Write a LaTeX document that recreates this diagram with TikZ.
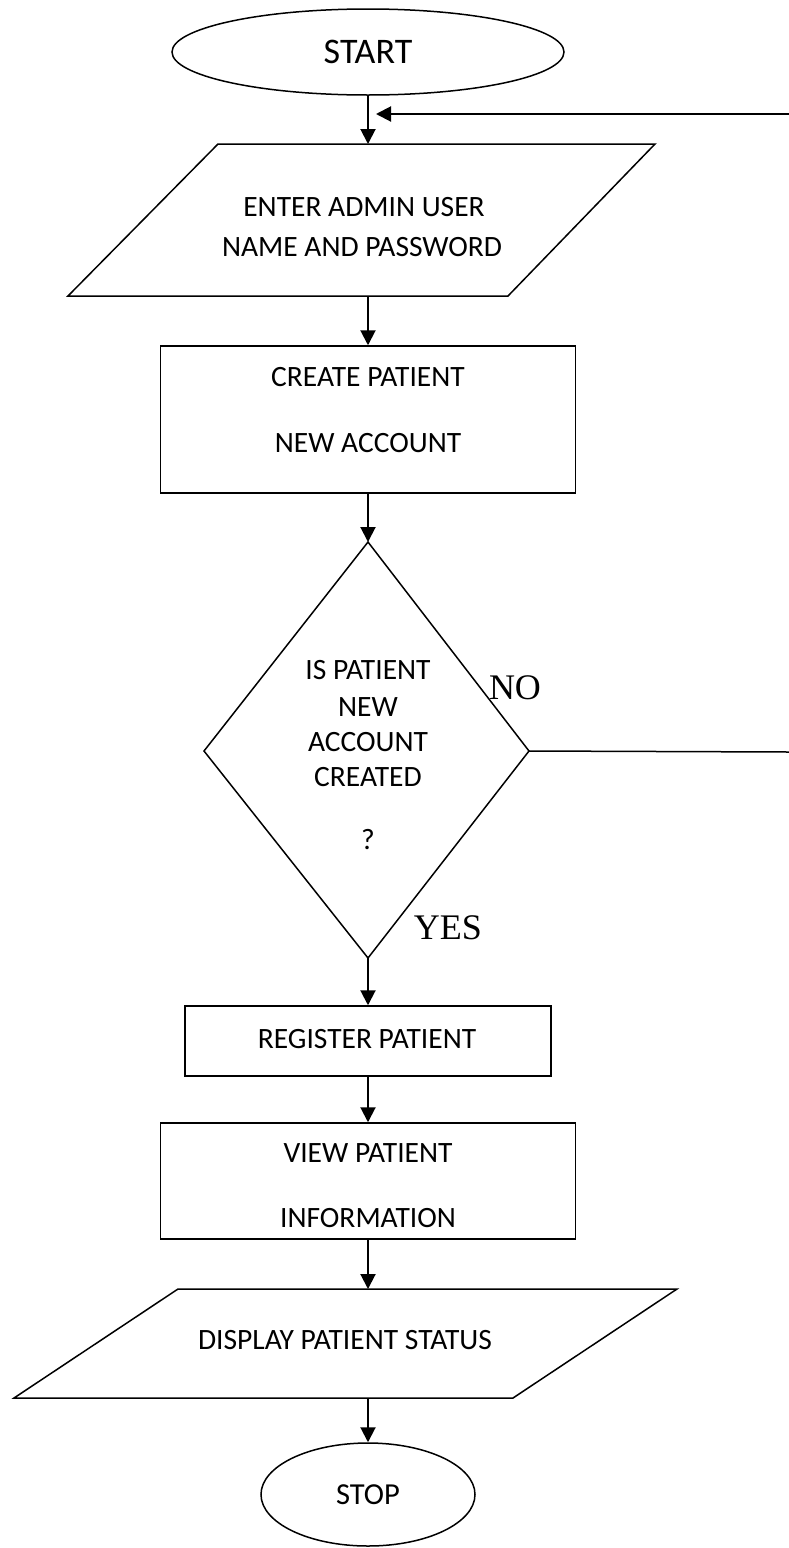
\documentclass[tikz,border=0pt]{standalone}
\usepackage{fontspec}
\setmainfont{Carlito}
\newfontfamily\tnr{Liberation Serif}
\usetikzlibrary{arrows.meta,shapes.geometric}
\tikzset{
  outline/.style={draw,line width=1.5pt},
  conn/.style={line width=2pt,-{Triangle[length=15pt,width=15pt]}},
  plainline/.style={line width=1.5pt},
  txt/.style={inner sep=0pt,font=\fontsize{29.5}{30}\selectfont},
  lbl/.style={inner sep=0pt,font=\fontsize{36}{36}\tnr},
  boxnode/.style={outline,rectangle,inner sep=0pt},
  ovalnode/.style={outline,ellipse,inner sep=0pt}
}
\begin{document}
\begin{tikzpicture}[x=1pt,y=-1pt]
\useasboundingbox (0,0) rectangle (789,1548);
% START
\node[ovalnode,minimum width=392pt,minimum height=86pt,font=\fontsize{36}{36}\selectfont] (start) at (368,52) {START};
% parallelogram 1
\coordinate (p1a) at (218,144);
\coordinate (p1b) at (655,144);
\coordinate (p1c) at (508,296);
\coordinate (p1d) at (68,296);
\draw[outline] (p1a) -- (p1b) -- (p1c) -- (p1d) -- cycle;
\coordinate (p1top) at (368,144);
\coordinate (p1bot) at (368,296);
\node[txt] (t1a) at (364,207) {ENTER ADMIN USER};
\node[txt] (t1b) at (362,247) {NAME AND PASSWORD};
% rect 1
\node[boxnode,minimum width=415pt,minimum height=147pt] (create) at (368,419.5) {};
\node[txt] (t2a) at (368,377) {CREATE PATIENT};
\node[txt] (t2b) at (368,443) {NEW ACCOUNT};
% diamond
\coordinate (dT) at (368,542);
\coordinate (dL) at (204,751);
\coordinate (dR) at (529,751);
\coordinate (dB) at (368,958);
\draw[outline] (dT) -- (dR) -- (dB) -- (dL) -- cycle;
\node[txt] (t3a) at (368,670) {IS PATIENT};
\node[txt] (t3b) at (368,707) {NEW};
\node[txt] (t3c) at (368,742) {ACCOUNT};
\node[txt] (t3d) at (368,777) {CREATED};
\node[txt] (t3e) at (368,840) {?};
\node[lbl] (no) at (515,688) {NO};
\node[lbl] (yes) at (448,928) {YES};
% rect 2
\node[boxnode,minimum width=366pt,minimum height=70pt] (register) at (368,1041) {};
\node[txt] (t4) at (367,1039) {REGISTER PATIENT};
% rect 3
\node[boxnode,minimum width=415pt,minimum height=116pt] (view) at (368,1181) {};
\node[txt] (t5a) at (368,1153) {VIEW PATIENT};
\node[txt] (t5b) at (368,1218) {INFORMATION};
% parallelogram 2
\coordinate (p2a) at (178,1289);
\coordinate (p2b) at (677,1289);
\coordinate (p2c) at (513,1398);
\coordinate (p2d) at (14,1398);
\draw[outline] (p2a) -- (p2b) -- (p2c) -- (p2d) -- cycle;
\coordinate (p2top) at (368,1289);
\coordinate (p2bot) at (368,1398);
\node[txt] (t6) at (345,1340) {DISPLAY PATIENT STATUS};
% STOP
\node[ovalnode,minimum width=214pt,minimum height=103pt,font=\fontsize{30.5}{31}\selectfont] (stop) at (368,1494.5) {STOP};
% connectors
\draw[conn] (start.south) -- (p1top);
\draw[conn] (p1bot) -- (create.north);
\draw[conn] (create.south) -- (dT);
\draw[conn] (dB) -- (register.north);
\draw[conn] (register.south) -- (view.north);
\draw[conn] (view.south) -- (p2top);
\draw[conn] (p2bot) -- (stop.north);
% NO loop
\coordinate (noend) at (789,752);
\coordinate (retstart) at (789,114);
\coordinate (retend) at (376,114);
\draw[plainline] (dR) -- (noend);
\draw[conn] (retstart) -- (retend);
\end{tikzpicture}
\end{document}
